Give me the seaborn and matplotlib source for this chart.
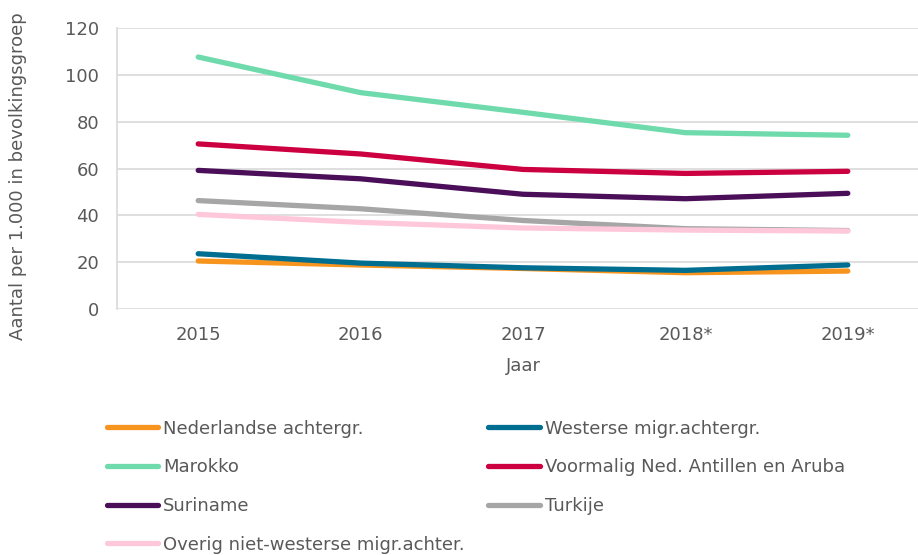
import matplotlib
matplotlib.use("Agg")
import matplotlib.pyplot as plt
import seaborn as sns
import pandas as pd
from matplotlib.lines import Line2D

years = ["2015", "2016", "2017", "2018*", "2019*"]
nederlandse = [20.5, 18.8, 17.3, 15.5, 16.2]
westerse = [23.6, 19.6, 17.6, 16.5, 18.8]
marokko = [107.6, 92.4, 84.0, 75.3, 74.2]
voormalig = [70.5, 66.2, 59.6, 57.9, 58.8]
suriname = [59.2, 55.6, 49.0, 47.1, 49.4]
turkije = [46.3, 42.8, 37.8, 34.3, 33.5]
overig = [40.4, 37.0, 34.6, 33.7, 33.3]

series_names = ["Nederlandse achtergr.", "Westerse migr.achtergr.", "Marokko",
                "Voormalig Ned. Antillen en Aruba", "Suriname", "Turkije",
                "Overig niet-westerse migr.achter."]
series_values = [nederlandse, westerse, marokko, voormalig, suriname, turkije, overig]
colors = ["#F7941D", "#006E90", "#6FDAAC", "#CC0040", "#4A0F58", "#A6A6A6", "#FFC8DA"]

rows = []
for name, vals in zip(series_names, series_values):
    for i, v in enumerate(vals):
        rows.append({"Jaar": i, "Groep": name, "Waarde": v})
df = pd.DataFrame(rows)

sns.set_theme(style="white")
plt.rcParams["font.family"] = ["DejaVu Sans"]
text_color = "#595959"
fs = 13

fig = plt.figure(figsize=(9.18, 5.55), dpi=100)
W, H = 918, 555
ax = fig.add_axes([117 / W, (555 - 309) / H, 812 / W, 281 / H])

sns.lineplot(data=df, x="Jaar", y="Waarde", hue="Groep", hue_order=series_names,
             palette=colors, linewidth=3.8, ax=ax, legend=False,
             solid_capstyle="round")

ax.set_xlim(-0.5, 4.5)
ax.set_ylim(0, 120)
ax.set_yticks([0, 20, 40, 60, 80, 100, 120])
ax.set_xticks(range(5))
ax.set_xticklabels(years)
ax.grid(axis="y", color="#D9D9D9", linewidth=1.2)
ax.set_axisbelow(True)
for s in ["top", "right", "bottom"]:
    ax.spines[s].set_visible(False)
ax.spines["left"].set_color("#D9D9D9")
ax.spines["left"].set_linewidth(1.2)
ax.tick_params(axis="both", length=0, labelsize=fs, colors=text_color)
ax.tick_params(axis="x", pad=12)
ax.tick_params(axis="y", pad=13)

ax.set_xlabel("Jaar", fontsize=fs, color=text_color)
ax.set_ylabel("Aantal per 1.000 in bevolkingsgroep", fontsize=fs, color=text_color)
ax.xaxis.set_label_coords(0.5, -0.17)
ax.yaxis.set_label_coords(-0.111, 0.4715)

handles = [Line2D([], [], color=c, linewidth=3.8, solid_capstyle="round") for c in colors]
left_idx = [0, 2, 4, 6]
right_idx = [1, 3, 5]
for idx, x0 in [(left_idx, 106.5), (right_idx, 488.5)]:
    fig.legend([handles[i] for i in idx], [series_names[i] for i in idx],
               loc="upper left", bbox_to_anchor=(x0 / W, 1 - 419.5 / H),
               frameon=False, fontsize=fs, handlelength=2.83,
               handletextpad=0.3, labelspacing=1.15, borderpad=0,
               borderaxespad=0, labelcolor=text_color)

fig.savefig("out.png", dpi=100)
